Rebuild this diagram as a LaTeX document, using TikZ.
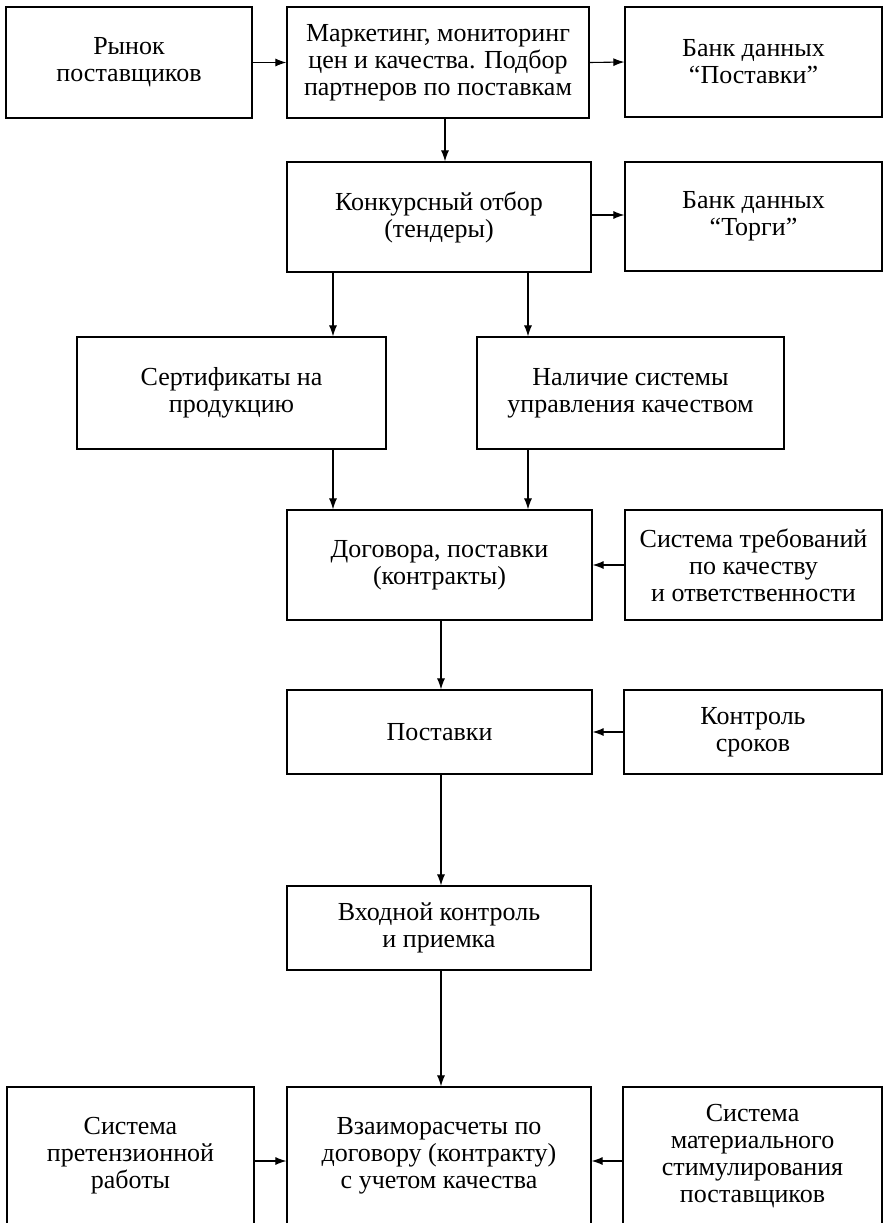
\documentclass[tikz,border=0pt]{standalone}
\usepackage{fontspec}
\setmainfont{Liberation Serif}
\usetikzlibrary{arrows.meta}
\begin{document}
\begin{tikzpicture}[x=1pt,y=-1pt,
  box/.style={draw, line width=1.2pt, inner sep=0pt, align=center,
    font=\fontsize{26}{27}\selectfont},
  arr/.style={line width=1.1pt, -{Latex[length=11pt,width=8pt]}}]
\useasboundingbox (0,0) rectangle (883,1223);
\clip (0,0) rectangle (883,1223);
% row 1
\node[box, minimum width=246pt, minimum height=111pt] (b1) at (129,62.5) {Рынок\\поставщиков};
\node[box, minimum width=302pt, minimum height=111pt] (b2) at (438,62.5) {Маркетинг, мониторинг\\цен и качества. Подбор\\партнеров по поставкам};
\node[box, minimum width=257pt, minimum height=110pt] (b3) at (753.5,62) {Банк данных\\“Поставки”};
% row 2
\node[box, minimum width=304pt, minimum height=110pt] (konk) at (439,217) {Конкурсный отбор\\(тендеры)};
\node[box, minimum width=257pt, minimum height=109pt] (torgi) at (753.5,216.5) {Банк данных\\“Торги”};
% row 3
\node[box, minimum width=309pt, minimum height=112pt] (sert) at (231.5,393) {Сертификаты на\\продукцию};
\node[box, minimum width=307pt, minimum height=112pt] (nal) at (630.5,393) {Наличие системы\\управления качеством};
% row 4
\node[box, minimum width=305pt, minimum height=110pt] (dog) at (439.5,565) {Договора, поставки\\(контракты)};
\node[box, minimum width=257pt, minimum height=110pt] (sist) at (753.5,565) {Система требований\\по качеству\\и ответственности};
% row 5
\node[box, minimum width=305pt, minimum height=84pt] (post) at (439.5,732) {Поставки};
\node[box, minimum width=258pt, minimum height=84pt] (kontr) at (753,732) {Контроль\\сроков};
% row 6
\node[box, minimum width=304pt, minimum height=84pt] (vkh) at (439,928) {Входной контроль\\и приемка};
% row 7
\node[box, minimum width=247pt, minimum height=138pt] (lb) at (130.5,1156) {Система\\претензионной\\работы};
\node[box, minimum width=304pt, minimum height=138pt] (vz) at (439,1156) {Взаиморасчеты по\\договору (контракту)\\с учетом качества};
\node[box, minimum width=259pt, minimum height=138pt] (rb) at (752.5,1156) {Система\\материального\\стимулирования\\поставщиков};
% helper coordinates
\coordinate (xa) at (445,0);
\coordinate (xl) at (333,0);
\coordinate (xr) at (528,0);
\coordinate (xm) at (441,0);
\coordinate (yt) at (0,215);
\coordinate (yb) at (0,1161);
% connectors
\draw[arr] (b1.east) -- (b2.west);
\draw[arr] (b2.east) -- (b3.west);
\draw[arr] (b2.south -| xa) -- (konk.north -| xa);
\draw[arr] (konk.east |- yt) -- (torgi.west |- yt);
\draw[arr] (konk.south -| xl) -- (sert.north -| xl);
\draw[arr] (konk.south -| xr) -- (nal.north -| xr);
\draw[arr] (sert.south -| xl) -- (dog.north -| xl);
\draw[arr] (nal.south -| xr) -- (dog.north -| xr);
\draw[arr] (sist.west) -- (dog.east);
\draw[arr] (dog.south -| xm) -- (post.north -| xm);
\draw[arr] (kontr.west) -- (post.east);
\draw[arr] (post.south -| xm) -- (vkh.north -| xm);
\draw[arr] (vkh.south -| xm) -- (vz.north -| xm);
\draw[arr] (lb.east |- yb) -- (vz.west |- yb);
\draw[arr] (rb.west |- yb) -- (vz.east |- yb);
\end{tikzpicture}
\end{document}
